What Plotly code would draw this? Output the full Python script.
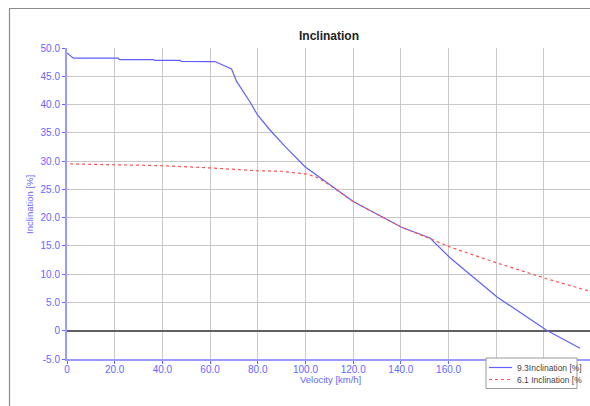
import plotly.graph_objects as go

# Data
v_93 = [0, 2, 2.7, 21.5, 22, 36, 37, 47.4, 48, 60, 62, 69, 71.1, 76.7, 79.8, 85.1, 92.1, 99.8,
        105.4, 112.4, 120, 140.3, 152.2, 160.6, 180.2, 201.1, 215.1]
incl_93 = [49.1, 48.4, 48.2, 48.2, 47.95, 47.95, 47.8, 47.8, 47.65, 47.6, 47.6, 46.3, 44.1, 40.5, 38.2,
           35.5, 32.3, 29.0, 27.3, 25.1, 22.85, 18.3, 16.4, 12.9, 6.0, 0.1, -3.1]

v_61 = [1.3, 19.3, 39, 60, 79.5, 89.7, 100.5, 105, 110, 120, 140.3, 152.2, 160.6, 180.2, 201.1, 220]
incl_61 = [29.5, 29.35, 29.2, 28.8, 28.3, 28.2, 27.7, 27.1, 25.8, 22.85, 18.3, 16.3, 14.8, 12.0, 9.2, 6.9]

name_93 = "9.3Inclination [%]"
name_61 = "6.1 Inclination [%"   # as visible (truncated) in the reference legend
title = "Inclination"
x_title = "Velocity [km/h]"
y_title = "Inclination [%]"

# labels for 180 and 200 are hidden behind the legend box in the reference
x_ticks = [0, 20, 40, 60, 80, 100, 120, 140, 160, 180, 200, 220]
x_tick_text = ["0", "20.0", "40.0", "60.0", "80.0", "100.0", "120.0", "140.0", "160.0", "", "", "220.0"]
y_ticks = [-5, 0, 5, 10, 15, 20, 25, 30, 35, 40, 45, 50]
y_tick_text = ["-5.0", "0", "5.0", "10.0", "15.0", "20.0", "25.0", "30.0", "35.0", "40.0", "45.0", "50.0"]

BLUE = "#6060ff"
RED = "#ff5050"
TICK_BLUE = "#6666ff"
FONT = "Liberation Sans"

fig = go.Figure()
fig.add_trace(go.Scatter(x=v_93, y=incl_93, mode="lines", name=name_93,
                         line=dict(color=BLUE, width=1.2), showlegend=False))
fig.add_trace(go.Scatter(x=v_61, y=incl_61, mode="lines", name=name_61,
                         line=dict(color=RED, width=1.2, dash="dot"), showlegend=False))

L, R, T, B = 67, 0, 48, 47
W, H = 590, 406
pw = W - L - R
ph = H - T - B

def px(x):
    return (x - L) / pw

def py(y):
    return (H - B - y) / ph

# hand-drawn legend box (reference legend is compact)
legend_shapes = [
    dict(type="rect", xref="paper", yref="paper", x0=px(486), x1=px(577), y0=py(388.5), y1=py(358),
         fillcolor="white", line=dict(color="#9a9a9a", width=1), layer="above"),
    dict(type="line", xref="paper", yref="paper", x0=px(489), x1=px(512), y0=py(367.5), y1=py(367.5),
         line=dict(color=BLUE, width=1.2), layer="above"),
    dict(type="line", xref="paper", yref="paper", x0=px(489), x1=px(512), y0=py(379.5), y1=py(379.5),
         line=dict(color=RED, width=1.2, dash="dot"), layer="above"),
]
legend_texts = [
    dict(text=name_93, x=px(515), y=py(367.5), xref="paper", yref="paper", showarrow=False,
         xanchor="left", yanchor="middle", font=dict(family=FONT, size=8.5, color="#444444")),
    dict(text=name_61, x=px(515), y=py(379.8), xref="paper", yref="paper", showarrow=False,
         xanchor="left", yanchor="middle", font=dict(family=FONT, size=8.5, color="#444444")),
]

fig.update_layout(
    width=W, height=H,
    margin=dict(l=L, r=R, t=T, b=B, pad=0, autoexpand=False),
    paper_bgcolor="white", plot_bgcolor="white",
    font=dict(family=FONT, size=10, color=TICK_BLUE),
    showlegend=False,
    xaxis=dict(range=[0, 219.3], tickvals=x_ticks, ticktext=x_tick_text,
               showgrid=True, gridcolor="#c8c8c8", gridwidth=1,
               showline=True, linecolor="#9a9aff", linewidth=2,
               ticks="outside", ticklen=3, tickcolor=TICK_BLUE,
               ticklabelstandoff=-3,
               tickfont=dict(family=FONT, size=10, color=TICK_BLUE),
               zeroline=False, automargin=False),
    yaxis=dict(range=[-5, 50], tickvals=y_ticks, ticktext=y_tick_text,
               showgrid=True, gridcolor="#c8c8c8", gridwidth=1,
               showline=True, linecolor="#9a9aff", linewidth=2,
               ticks="outside", ticklen=3, tickcolor=TICK_BLUE,
               tickfont=dict(family=FONT, size=10, color=TICK_BLUE),
               zeroline=True, zerolinecolor="#606060", zerolinewidth=1.5, automargin=False),
    annotations=[
        dict(text="<b>" + title + "</b>", x=px(329), y=py(36), xref="paper", yref="paper",
             showarrow=False, font=dict(family=FONT, size=12, color="#222222"),
             xanchor="center", yanchor="middle"),
        dict(text=x_title, x=px(330), y=py(379), xref="paper", yref="paper",
             showarrow=False, font=dict(family=FONT, size=9.5, color=TICK_BLUE),
             xanchor="center", yanchor="middle"),
        dict(text=y_title, x=px(29), y=py(204), xref="paper", yref="paper",
             showarrow=False, textangle=-90, font=dict(family=FONT, size=9.5, color=TICK_BLUE),
             xanchor="center", yanchor="middle"),
    ] + legend_texts,
    shapes=[
        dict(type="line", xref="paper", yref="paper", x0=px(9), x1=px(600), y0=py(8.5), y1=py(8.5),
             line=dict(color="#8c8c8c", width=1.2), layer="above"),
        dict(type="line", xref="paper", yref="paper", x0=px(9.5), x1=px(9.5), y0=py(8.5), y1=py(420),
             line=dict(color="#8c8c8c", width=1.2), layer="above"),
    ] + legend_shapes,
)

fig.write_html("out.html")
